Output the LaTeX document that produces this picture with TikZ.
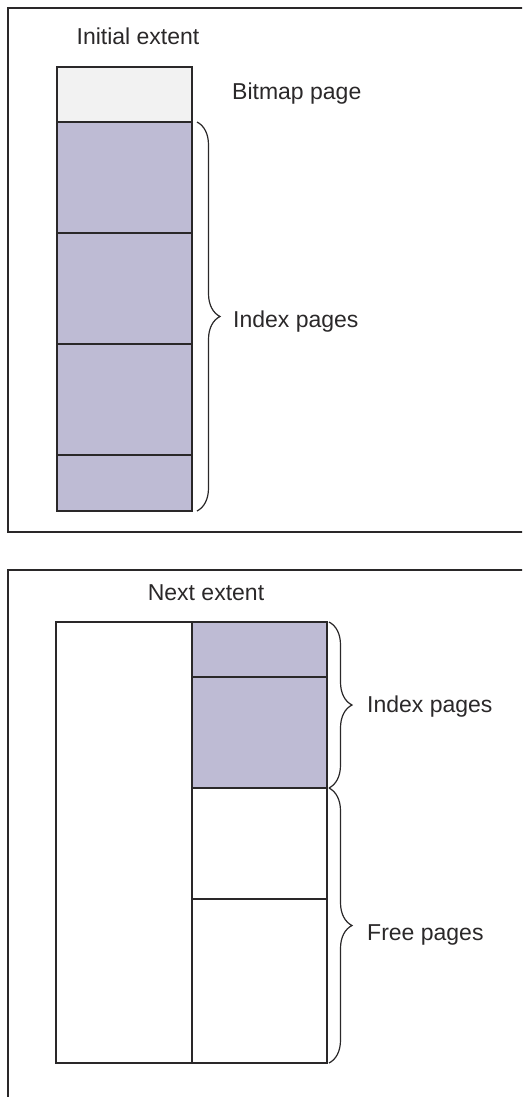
\documentclass[tikz,border=0pt]{standalone}
\usepackage{fontspec}
\setmainfont{Liberation Sans}
\usetikzlibrary{decorations.pathreplacing}
\definecolor{ink}{HTML}{2A2829}
\definecolor{idxfill}{HTML}{BEBBD4}
\definecolor{bmpfill}{HTML}{F2F2F2}
\tikzset{
  page/.style={draw=ink, line width=1.6pt, inner sep=0pt, outer sep=0pt,
    minimum width=135pt, rectangle},
  idx/.style={page, fill=idxfill},
  bmp/.style={page, fill=bmpfill},
  freepg/.style={page, fill=white},
  frame/.style={draw=ink, line width=2pt},
  lbl/.style={text=ink, font=\fontsize{23}{27}\selectfont, inner sep=0pt},
  pbrace/.style={draw=ink, line width=1.2pt,
    decorate, decoration={brace, amplitude=23pt}},
}
\begin{document}
\begin{tikzpicture}[x=1pt, y=-1pt]
\useasboundingbox (0,0) rectangle (522,1097);
\clip (0,0) rectangle (522,1097);

% outer frames of the two extents
\draw[frame] (8,8) rectangle (560,532);
\draw[frame] (560,570) -- (8,570) -- (8,1120);

% initial extent: bitmap page followed by index pages
\node[lbl, anchor=base] (t1) at (138,45) {Initial extent};
\node[bmp, minimum height=55pt]  (a0) at (124.5,94.5) {};
\node[idx, minimum height=111pt] (a1) at (124.5,177.5) {};
\node[idx, minimum height=111pt] (a2) at (124.5,288.5) {};
\node[idx, minimum height=111pt] (a3) at (124.5,399.5) {};
\node[idx, minimum height=56pt]  (a4) at (124.5,483) {};
\node[lbl, anchor=base west] (l0) at (232,100) {Bitmap page};
\node[lbl, anchor=base west] (l1) at (233,327) {Index pages};
\draw[pbrace] ([xshift=5pt]a1.north east) -- ([xshift=5pt]a4.south east);

% next extent: used block, index pages and free pages
\node[lbl, anchor=base] (t2) at (206,600) {Next extent};
\node[freepg, minimum width=136pt, minimum height=441pt] (b0) at (124,842.5) {};
\node[idx, minimum height=55pt]    (b1) at (259.5,649.5) {};
\node[idx, minimum height=111pt]   (b2) at (259.5,732.5) {};
\node[freepg, minimum height=111pt] (b3) at (259.5,843.5) {};
\node[freepg, minimum height=164pt] (b4) at (259.5,981) {};
\node[lbl, anchor=base west] (l2) at (367,712) {Index pages};
\node[lbl, anchor=base west] (l3) at (367,940) {Free pages};
\draw[pbrace] ([xshift=2pt]b1.north east) -- ([xshift=2pt]b2.south east);
\draw[pbrace] ([xshift=2pt]b3.north east) -- ([xshift=2pt]b4.south east);
\end{tikzpicture}
\end{document}
